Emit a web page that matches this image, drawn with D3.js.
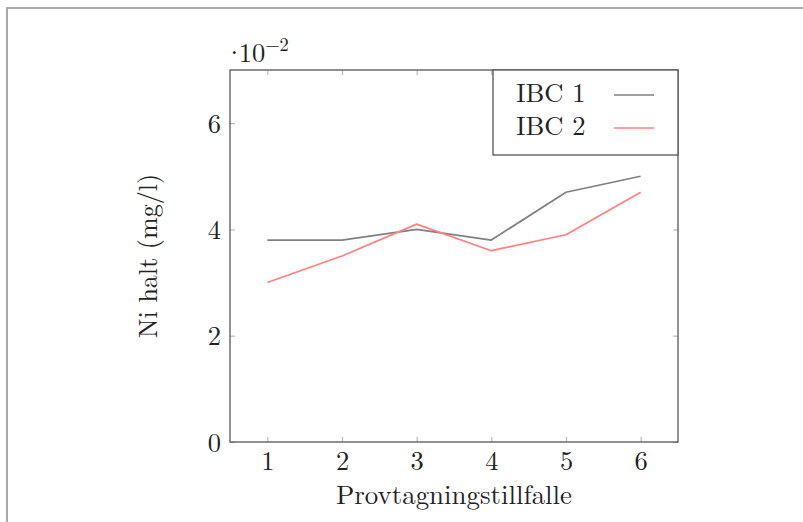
<!DOCTYPE html>
<html>
<head>
<meta charset="utf-8">
<script src="https://cdn.jsdelivr.net/npm/d3@7"></script>
<style>
  html, body { margin: 0; padding: 0; background: #fff; }
  svg { display: block; }
</style>
</head>
<body>
<svg id="chart" width="803" height="522"></svg>
<script>
// ---- data ----
const samples = [1, 2, 3, 4, 5, 6];
const ibc1 = [3.8, 3.8, 4.0, 3.8, 4.7, 5.0];   // ×10^-2 mg/l
const ibc2 = [3.0, 3.5, 4.1, 3.6, 3.9, 4.7];   // ×10^-2 mg/l
const seriesNames = ["IBC 1", "IBC 2"];
const xTicks = [1, 2, 3, 4, 5, 6];
const yTicks = [0, 2, 4, 6];
const xLabel = "Provtagningstillfalle";
const yLabel = "Ni halt (mg/l)";

// ---- layout ----
const FONT = "'Latin Modern Roman', 'Liberation Serif', serif";
const FS = 26.5;
const svg = d3.select("#chart");
const pL = 230, pT = 70, pR = 678, pB = 442;
const colors = ["#808080", "#ff8080"];

svg.append("line").attr("x1", 7).attr("x2", 7).attr("y1", 7).attr("y2", 522)
  .attr("stroke", "#aaa").attr("stroke-width", 2);
svg.append("line").attr("x1", 6).attr("x2", 803).attr("y1", 8).attr("y2", 8)
  .attr("stroke", "#aaa").attr("stroke-width", 2);

const x = d3.scaleLinear().domain([0.5, 6.5]).range([pL, pR]);
const y = d3.scaleLinear().domain([0, 7]).range([pB, pT]);

const tickLen = 5;
const tickColor = "#bbb";

const xAxis = svg.append("g").attr("transform", `translate(0,${pB})`)
  .call(d3.axisBottom(x).tickValues(xTicks).tickSize(-tickLen).tickPadding(9).tickFormat(d3.format("d")));
const xAxisTop = svg.append("g").attr("transform", `translate(0,${pT})`)
  .call(d3.axisTop(x).tickValues(xTicks).tickSize(-tickLen).tickFormat(""));
const yAxis = svg.append("g").attr("transform", `translate(${pL},0)`)
  .call(d3.axisLeft(y).tickValues(yTicks).tickSize(-tickLen).tickPadding(9).tickFormat(d3.format("d")));
const yAxisRight = svg.append("g").attr("transform", `translate(${pR},0)`)
  .call(d3.axisRight(y).tickValues(yTicks).tickSize(-tickLen).tickFormat(""));

[xAxis, xAxisTop, yAxis, yAxisRight].forEach(g => {
  g.attr("font-family", null).attr("font-size", null);
  g.select(".domain").remove();
  g.selectAll(".tick line").attr("stroke", tickColor).attr("stroke-width", 1.2);
  g.selectAll(".tick text").style("font-family", FONT)
    .style("font-size", FS + "px").attr("fill", "#222");
});
xAxis.selectAll(".tick text").attr("dy", "0.71em");
yAxis.selectAll(".tick text").attr("dy", "0.34em");

svg.append("rect").attr("x", pL).attr("y", pT)
  .attr("width", pR - pL).attr("height", pB - pT)
  .attr("fill", "none").attr("stroke", "#555").attr("stroke-width", 1.3);

const line = d3.line().x((d, i) => x(samples[i])).y(d => y(d));
[ibc1, ibc2].forEach((s, k) => {
  svg.append("path").datum(s).attr("d", line)
    .attr("fill", "none").attr("stroke", colors[k]).attr("stroke-width", 1.7)
    .attr("stroke-linejoin", "round");
});

const txt = (sel, size) => sel.style("font-family", FONT).style("font-size", size + "px").attr("fill", "#222");

const expo = txt(svg.append("text").attr("x", 224).attr("y", 62), FS);
expo.append("tspan").text("·");
expo.append("tspan").attr("dx", -6).text("10");
expo.append("tspan").style("font-size", "18.5px").attr("dy", -11).text("−2");

txt(svg.append("text").attr("x", (pL + pR) / 2).attr("y", 504)
  .attr("text-anchor", "middle")
  .attr("textLength", 236).attr("lengthAdjust", "spacingAndGlyphs").text(xLabel), FS);
txt(svg.append("text").attr("transform", `translate(157,${(pT + pB) / 2}) rotate(-90)`)
  .attr("text-anchor", "middle")
  .attr("textLength", 164).attr("lengthAdjust", "spacingAndGlyphs").text(yLabel), FS);

const lg = svg.append("g");
lg.append("rect").attr("x", 493).attr("y", pT).attr("width", pR - 493).attr("height", 85)
  .attr("fill", "#fff").attr("stroke", "#555").attr("stroke-width", 1.3);
seriesNames.forEach((name, k) => {
  const by = 102 + k * 33;
  txt(lg.append("text").attr("x", 516).attr("y", by).text(name), FS);
  lg.append("line").attr("x1", 614).attr("x2", 654).attr("y1", by - 7).attr("y2", by - 7)
    .attr("stroke", colors[k]).attr("stroke-width", 1.7);
});
</script>
</body>
</html>
